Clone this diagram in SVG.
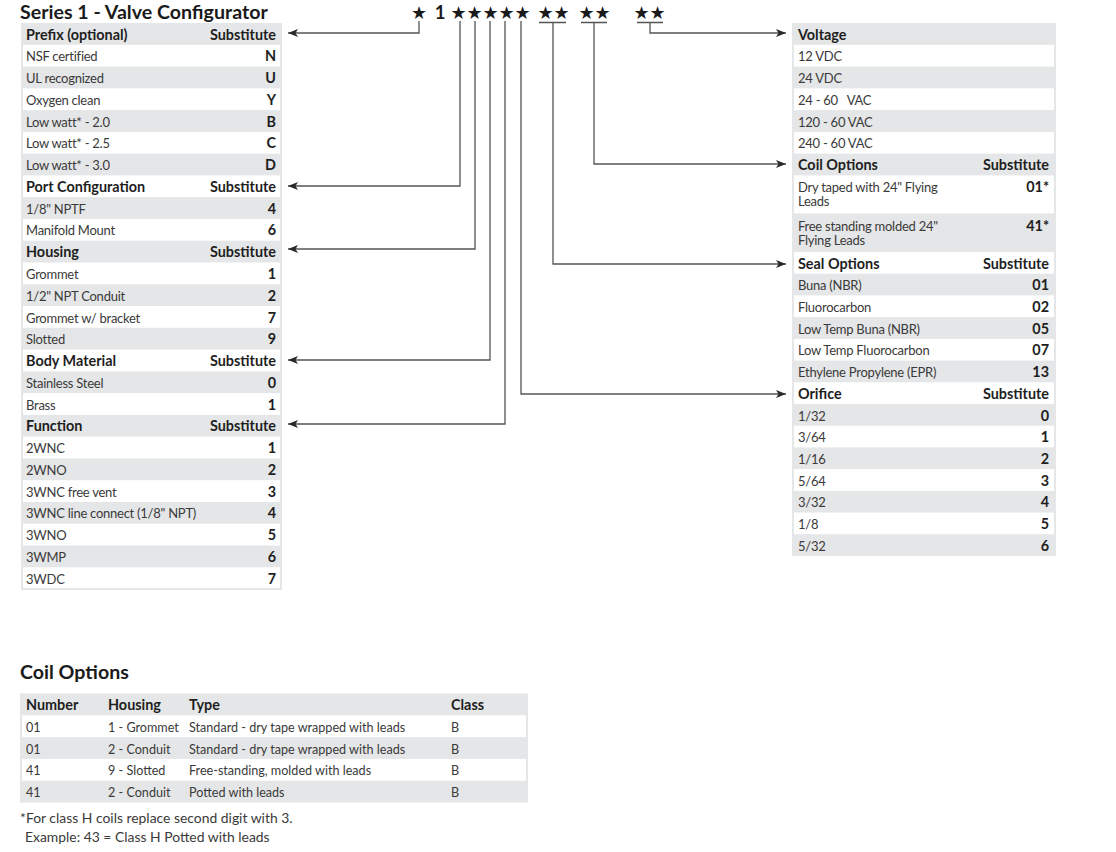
<svg xmlns="http://www.w3.org/2000/svg" width="1116" height="852" viewBox="0 0 1116 852">
<defs>
<marker id="arr" viewBox="0 0 10 8" refX="10" refY="4" markerWidth="10" markerHeight="8" markerUnits="userSpaceOnUse" orient="auto">
<path d="M0,0 L10,4 L0,8 L2.5,4 z" fill="#2a2a2a"/>
</marker>
<style>
text{font-family:Lato,"Liberation Sans",sans-serif}
.t{font-size:13px;letter-spacing:-0.25px;fill:#3a3a3a}
.tb{font-size:12.6px;fill:#3a3a3a}
.fn{font-size:13.9px;fill:#3a3a3a}
.b{font-size:14.4px;font-weight:bold;fill:#1e1e1e}
.v{font-size:14.4px;font-weight:bold;fill:#1e1e1e;text-anchor:end}
.h1{font-size:19.6px;font-weight:bold;fill:#1a1a1a}
.st{font-family:"DejaVu Sans",sans-serif;font-size:17.9px;fill:#1a1a1a;text-anchor:middle}
.g{fill:#e5e6e7}
.w{fill:#ffffff}
.c{fill:none;stroke:#555;stroke-width:1.3}
.u{fill:none;stroke:#555;stroke-width:1.3}
</style>
</defs>
<rect width="1116" height="852" fill="#fff"/>

<g id="title">
<text class="h1" x="20" y="19.4">Series 1 - Valve Configurator</text>
</g>

<g id="code">
<text class="st" x="419" y="18.5">★</text>
<text x="440" y="18.8" style="font-size:18.5px;font-weight:bold;fill:#1a1a1a;text-anchor:middle">1</text>
<text class="st" x="490.5" y="18.5">★★★★★</text>
<text class="st" x="553.5" y="18.5">★★</text>
<text class="st" x="594.5" y="18.5">★★</text>
<text class="st" x="649.5" y="18.5">★★</text>
</g>

<g id="connectors">
<path class="u" d="M539,22.5 H566 M581,22.5 H607 M637,22.5 H663"/>
<path class="c" d="M419,21 V33 H288" marker-end="url(#arr)"/>
<path class="c" d="M460,21 V186 H288" marker-end="url(#arr)"/>
<path class="c" d="M475,21 V249 H288" marker-end="url(#arr)"/>
<path class="c" d="M490,21 V360 H288" marker-end="url(#arr)"/>
<path class="c" d="M505,21 V424 H288" marker-end="url(#arr)"/>
<path class="c" d="M521,21 V394 H786" marker-end="url(#arr)"/>
<path class="c" d="M553,22.5 V264 H786" marker-end="url(#arr)"/>
<path class="c" d="M594,22.5 V164 H786" marker-end="url(#arr)"/>
<path class="c" d="M650,22.5 V33 H786" marker-end="url(#arr)"/>
</g>

<g id="left-table">
<rect class="g" x="21" y="23" width="261" height="567"/>
<rect class="w" x="23" y="44.77" width="257" height="21.77"/>
<rect class="w" x="23" y="88.31" width="257" height="21.77"/>
<rect class="w" x="23" y="131.85" width="257" height="21.77"/>
<rect class="w" x="23" y="175.39" width="257" height="21.77"/>
<rect class="w" x="23" y="218.93" width="257" height="21.77"/>
<rect class="w" x="23" y="262.47" width="257" height="21.77"/>
<rect class="w" x="23" y="306.01" width="257" height="21.77"/>
<rect class="w" x="23" y="349.55" width="257" height="21.77"/>
<rect class="w" x="23" y="393.09" width="257" height="21.77"/>
<rect class="w" x="23" y="436.63" width="257" height="21.77"/>
<rect class="w" x="23" y="480.17" width="257" height="21.77"/>
<rect class="w" x="23" y="523.71" width="257" height="21.77"/>
<rect class="w" x="23" y="567.25" width="257" height="20.75"/>
</g>

<g id="prefix">
<text class="b" x="26" y="39.5">Prefix (optional)</text><text class="v" x="276" y="39.5">Substitute</text>
<text class="t" x="26" y="61.3">NSF certified</text><text class="v" x="276" y="61.3">N</text>
<text class="t" x="26" y="83">UL recognized</text><text class="v" x="276" y="83">U</text>
<text class="t" x="26" y="104.8">Oxygen clean</text><text class="v" x="276" y="104.8">Y</text>
<text class="t" x="26" y="126.6">Low watt* - 2.0</text><text class="v" x="276" y="126.6">B</text>
<text class="t" x="26" y="148.4">Low watt* - 2.5</text><text class="v" x="276" y="148.4">C</text>
<text class="t" x="26" y="170.1">Low watt* - 3.0</text><text class="v" x="276" y="170.1">D</text>
</g>

<g id="port">
<text class="b" x="26" y="191.9">Port Configuration</text><text class="v" x="276" y="191.9">Substitute</text>
<text class="t" x="26" y="213.7">1/8" NPTF</text><text class="v" x="276" y="213.7">4</text>
<text class="t" x="26" y="235.4">Manifold Mount</text><text class="v" x="276" y="235.4">6</text>
</g>

<g id="housing">
<text class="b" x="26" y="257.2">Housing</text><text class="v" x="276" y="257.2">Substitute</text>
<text class="t" x="26" y="279">Grommet</text><text class="v" x="276" y="279">1</text>
<text class="t" x="26" y="300.7">1/2" NPT Conduit</text><text class="v" x="276" y="300.7">2</text>
<text class="t" x="26" y="322.5">Grommet w/ bracket</text><text class="v" x="276" y="322.5">7</text>
<text class="t" x="26" y="344.3">Slotted</text><text class="v" x="276" y="344.3">9</text>
</g>

<g id="body">
<text class="b" x="26" y="366.1">Body Material</text><text class="v" x="276" y="366.1">Substitute</text>
<text class="t" x="26" y="387.8">Stainless Steel</text><text class="v" x="276" y="387.8">0</text>
<text class="t" x="26" y="409.6">Brass</text><text class="v" x="276" y="409.6">1</text>
</g>

<g id="function">
<text class="b" x="26" y="431.4">Function</text><text class="v" x="276" y="431.4">Substitute</text>
<text class="t" x="26" y="453.1">2WNC</text><text class="v" x="276" y="453.1">1</text>
<text class="t" x="26" y="474.9">2WNO</text><text class="v" x="276" y="474.9">2</text>
<text class="t" x="26" y="496.7">3WNC free vent</text><text class="v" x="276" y="496.7">3</text>
<text class="t" x="26" y="518.4">3WNC line connect (1/8" NPT)</text><text class="v" x="276" y="518.4">4</text>
<text class="t" x="26" y="540.2">3WNO</text><text class="v" x="276" y="540.2">5</text>
<text class="t" x="26" y="562">3WMP</text><text class="v" x="276" y="562">6</text>
<text class="t" x="26" y="583.8">3WDC</text><text class="v" x="276" y="583.8">7</text>
</g>

<g id="right-table">
<rect class="g" x="792" y="23" width="264" height="533"/>
<rect class="w" x="794" y="44.77" width="260" height="21.77"/>
<rect class="w" x="794" y="88.31" width="260" height="21.77"/>
<rect class="w" x="794" y="131.85" width="260" height="21.77"/>
<rect class="w" x="794" y="175.39" width="260" height="38.1"/>
<rect class="w" x="794" y="252" width="260" height="21.71"/>
<rect class="w" x="794" y="295.42" width="260" height="21.71"/>
<rect class="w" x="794" y="338.84" width="260" height="21.71"/>
<rect class="w" x="794" y="382.26" width="260" height="21.71"/>
<rect class="w" x="794" y="425.68" width="260" height="21.71"/>
<rect class="w" x="794" y="469.1" width="260" height="21.71"/>
<rect class="w" x="794" y="512.52" width="260" height="21.71"/>
</g>

<g id="voltage">
<text class="b" x="798" y="39.5">Voltage</text>
<text class="t" x="798" y="61.3">12 VDC</text>
<text class="t" x="798" y="83">24 VDC</text>
<text class="t" x="798" y="104.8" xml:space="preserve">24 - 60   VAC</text>
<text class="t" x="798" y="126.6">120 - 60 VAC</text>
<text class="t" x="798" y="148.4">240 - 60 VAC</text>
</g>

<g id="coil-options">
<text class="b" x="798" y="170.1">Coil Options</text><text class="v" x="1049" y="170.1">Substitute</text>
<text class="t" x="798" y="191.8">Dry taped with 24" Flying</text><text class="v" x="1049" y="191.8">01*</text>
<text class="t" x="798" y="206.3">Leads</text>
<text class="t" x="798" y="230.8">Free standing molded 24"</text><text class="v" x="1049" y="230.8">41*</text>
<text class="t" x="798" y="245">Flying Leads</text>
</g>

<g id="seal">
<text class="b" x="798" y="268.5">Seal Options</text><text class="v" x="1049" y="268.5">Substitute</text>
<text class="t" x="798" y="290.2">Buna (NBR)</text><text class="v" x="1049" y="290.2">01</text>
<text class="t" x="798" y="311.9">Fluorocarbon</text><text class="v" x="1049" y="311.9">02</text>
<text class="t" x="798" y="333.6">Low Temp Buna (NBR)</text><text class="v" x="1049" y="333.6">05</text>
<text class="t" x="798" y="355.3">Low Temp Fluorocarbon</text><text class="v" x="1049" y="355.3">07</text>
<text class="t" x="798" y="377">Ethylene Propylene (EPR)</text><text class="v" x="1049" y="377">13</text>
</g>

<g id="orifice">
<text class="b" x="798" y="398.8">Orifice</text><text class="v" x="1049" y="398.8">Substitute</text>
<text class="t" x="798" y="420.5">1/32</text><text class="v" x="1049" y="420.5">0</text>
<text class="t" x="798" y="442.2">3/64</text><text class="v" x="1049" y="442.2">1</text>
<text class="t" x="798" y="463.9">1/16</text><text class="v" x="1049" y="463.9">2</text>
<text class="t" x="798" y="485.6">5/64</text><text class="v" x="1049" y="485.6">3</text>
<text class="t" x="798" y="507.3">3/32</text><text class="v" x="1049" y="507.3">4</text>
<text class="t" x="798" y="529">1/8</text><text class="v" x="1049" y="529">5</text>
<text class="t" x="798" y="550.7">5/32</text><text class="v" x="1049" y="550.7">6</text>
</g>

<g id="coil-table">
<text class="h1" x="20" y="679">Coil Options</text>
<rect class="g" x="20" y="693.5" width="508" height="109"/>
<rect class="w" x="22" y="715.3" width="504" height="21.8"/>
<rect class="w" x="22" y="758.9" width="504" height="21.8"/>
<text class="b" x="26" y="710">Number</text><text class="b" x="108" y="710">Housing</text><text class="b" x="189" y="710">Type</text><text class="b" x="451" y="710">Class</text>
<text class="tb" x="26" y="731.8">01</text><text class="tb" x="108" y="731.8">1 - Grommet</text><text class="tb" x="189" y="731.8">Standard - dry tape wrapped with leads</text><text class="tb" x="451" y="731.8">B</text>
<text class="tb" x="26" y="753.6">01</text><text class="tb" x="108" y="753.6">2 - Conduit</text><text class="tb" x="189" y="753.6">Standard - dry tape wrapped with leads</text><text class="tb" x="451" y="753.6">B</text>
<text class="tb" x="26" y="775.4">41</text><text class="tb" x="108" y="775.4">9 - Slotted</text><text class="tb" x="189" y="775.4">Free-standing, molded with leads</text><text class="tb" x="451" y="775.4">B</text>
<text class="tb" x="26" y="797.2">41</text><text class="tb" x="108" y="797.2">2 - Conduit</text><text class="tb" x="189" y="797.2">Potted with leads</text><text class="tb" x="451" y="797.2">B</text>
</g>

<g id="footnote">
<text class="fn" x="20" y="823">*For class H coils replace second digit with 3.</text>
<text class="fn" x="25" y="842">Example: 43 = Class H Potted with leads</text>
</g>
</svg>
